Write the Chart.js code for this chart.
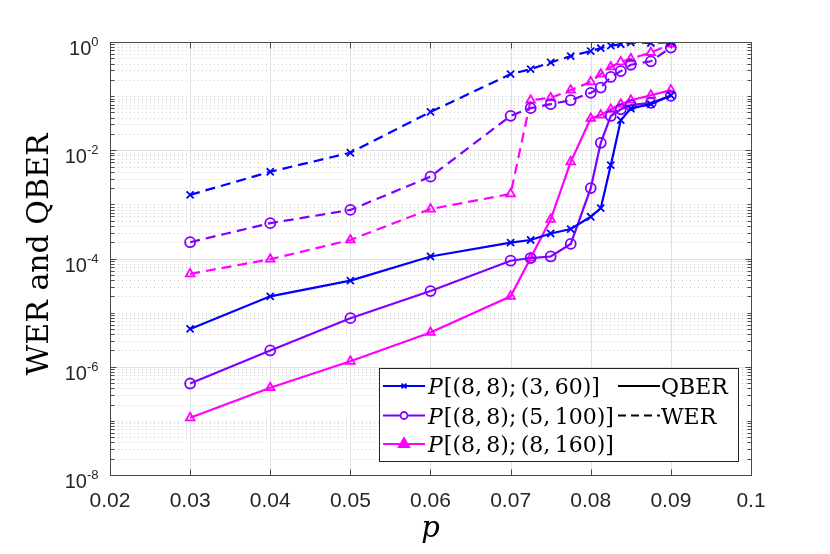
<!DOCTYPE html>
<html>
<head>
<meta charset="utf-8">
<title>WER and QBER</title>
<script src="https://cdn.jsdelivr.net/npm/chart.js@4.4.1/dist/chart.umd.min.js"></script>
<style>
  html, body { margin: 0; padding: 0; background: #fff; }
  #wrap { width: 830px; height: 554px; }
</style>
</head>
<body>
<div id="wrap"><canvas id="berChart" width="830" height="554"></canvas></div>
<script>
// ------------------------------------------------------------
// data
// ------------------------------------------------------------
const pValues = [0.03, 0.04, 0.05, 0.06, 0.07, 0.0725, 0.075, 0.0775, 0.08, 0.08125, 0.0825, 0.08375, 0.085, 0.0875, 0.09];

// P[(8,8);(3,60)]
const qber3 = [5.0e-6, 2.0e-5, 3.9e-5, 1.09e-4, 1.97e-4, 2.2e-4, 2.9e-4, 3.5e-4, 5.9e-4, 8.5e-4, 5.3e-3, 0.036, 0.059, 0.071, 0.103];
const wer3  = [1.5e-3, 4.0e-3, 9.0e-3, 5.1e-2, 0.255, 0.315, 0.42, 0.55, 0.68, 0.77, 0.855, 0.91, 0.98, 0.96, 0.99];

// P[(8,8);(5,100)]
const qber5 = [4.9e-7, 2.0e-6, 7.9e-6, 2.5e-5, 9.1e-5, 1.02e-4, 1.09e-4, 1.86e-4, 2.0e-3, 0.0137, 0.043, 0.057, 0.068, 0.075, 0.101];
const wer5  = [2.0e-4, 4.5e-4, 7.9e-4, 3.25e-3, 0.0433, 0.060, 0.071, 0.084, 0.115, 0.144, 0.226, 0.29, 0.38, 0.44, 0.79];

// P[(8,8);(8,160)]
const qber8 = [1.14e-7, 4.1e-7, 1.26e-6, 4.3e-6, 2.0e-5, 1.02e-4, 5.3e-4, 6.1e-3, 0.0387, 0.0446, 0.057, 0.071, 0.084, 0.104, 0.129];
const wer8  = [5.2e-5, 9.7e-5, 2.2e-4, 8.2e-4, 1.56e-3, 0.084, 0.093, 0.129, 0.183, 0.254, 0.346, 0.43, 0.49, 0.64, 0.91];

const codeNames = ["(3, 60)", "(5, 100)", "(8, 160)"];
const xTicks = [0.02, 0.03, 0.04, 0.05, 0.06, 0.07, 0.08, 0.09, 0.1];
const xTickLabels = ["0.02", "0.03", "0.04", "0.05", "0.06", "0.07", "0.08", "0.09", "0.1"];
const yExponents = [0, -2, -4, -6, -8];

const BLUE = "#0000ff";
const PURPLE = "#7f00ff";
const MAGENTA = "#ff00ff";

function toPoints(values) {
    return pValues.map((p, i) => ({ x: p, y: values[i] }));
}

function series(label, values, color, style, dashed) {
    return {
        label: label,
        data: toPoints(values),
        showLine: true,
        borderColor: color,
        borderWidth: 2.2,
        borderDash: dashed ? [10, 6] : [],
        pointStyle: style,
        pointRadius: 5,
        pointHoverRadius: 5,
        pointBorderWidth: 1.8,
        pointBorderColor: color,
        pointBackgroundColor: "rgba(0,0,0,0)",
        tension: 0
    };
}

// ------------------------------------------------------------
// axes, grid, labels and legend (MATLAB look)
// ------------------------------------------------------------
function hLine(ctx, x1, x2, y) {
    ctx.beginPath(); ctx.moveTo(x1, y); ctx.lineTo(x2, y); ctx.stroke();
}
function vLine(ctx, x, y1, y2) {
    ctx.beginPath(); ctx.moveTo(x, y1); ctx.lineTo(x, y2); ctx.stroke();
}

const matlabAxes = {
    id: "matlabAxes",
    beforeDraw(chart) {
        const ctx = chart.ctx;
        ctx.save();
        ctx.fillStyle = "#fff";
        ctx.fillRect(0, 0, chart.width, chart.height);
        ctx.restore();
    },
    beforeDatasetsDraw(chart) {
        const { ctx, chartArea: a, scales: { x, y } } = chart;
        ctx.save();
        ctx.lineWidth = 1;

        // minor grid (dotted)
        ctx.strokeStyle = "#cdcdcd";
        ctx.setLineDash([1, 3]);
        for (let e = -8; e < 0; e++) {
            for (let m = 1; m <= 9; m++) {
                if (m === 1 && e % 2 === 0) continue;
                const py = Math.round(y.getPixelForValue(m * Math.pow(10, e))) + 0.5;
                hLine(ctx, a.left, a.right, py);
            }
        }

        // major grid
        ctx.setLineDash([]);
        ctx.strokeStyle = "#e1e1e1";
        xTicks.forEach(v => {
            const px = Math.round(x.getPixelForValue(v)) + 0.5;
            vLine(ctx, px, a.top, a.bottom);
        });
        yExponents.forEach(e => {
            const py = Math.round(y.getPixelForValue(Math.pow(10, e))) + 0.5;
            hLine(ctx, a.left, a.right, py);
        });
        ctx.restore();
    },
    afterDatasetsDraw(chart) {
        const { ctx, chartArea: a, scales: { x, y } } = chart;
        ctx.save();

        // box + ticks
        ctx.strokeStyle = "#4a4a4a";
        ctx.lineWidth = 1;
        const L = Math.round(a.left) + 0.5, R = Math.round(a.right) + 0.5;
        const T = Math.round(a.top) + 0.5, B = Math.round(a.bottom) + 0.5;
        ctx.strokeRect(L, T, R - L, B - T);

        xTicks.forEach(v => {
            const px = Math.round(x.getPixelForValue(v)) + 0.5;
            vLine(ctx, px, B, B - 6);
            vLine(ctx, px, T, T + 6);
        });
        for (let e = -8; e <= 0; e++) {
            for (let m = 1; m <= 9; m++) {
                if (e === 0 && m > 1) break;
                const v = m * Math.pow(10, e);
                const py = Math.round(y.getPixelForValue(v)) + 0.5;
                const len = (m === 1 && e % 2 === 0) ? 6 : 4;
                hLine(ctx, L, L + len, py);
                hLine(ctx, R, R - len, py);
            }
        }

        // tick labels
        ctx.fillStyle = "#262626";
        ctx.font = "21px 'Liberation Sans', Arial, sans-serif";
        ctx.textAlign = "center";
        ctx.textBaseline = "alphabetic";
        xTicks.forEach((v, i) => {
            ctx.fillText(xTickLabels[i], x.getPixelForValue(v), B + 31);
        });

        const labelRight = L - 12;
        yExponents.forEach(e => {
            const py = y.getPixelForValue(Math.pow(10, e));
            const expText = String(e);
            ctx.font = "13px 'Liberation Sans', Arial, sans-serif";
            const expW = ctx.measureText(expText).width;
            ctx.textAlign = "left";
            ctx.fillText(expText, labelRight - expW, py + 4);
            ctx.font = "20px 'Liberation Sans', Arial, sans-serif";
            ctx.textAlign = "right";
            ctx.fillText("10", labelRight - expW, py + 13);
        });

        // axis titles
        ctx.fillStyle = "#000";
        ctx.textAlign = "center";
        ctx.font = "italic 29px 'DejaVu Serif', serif";
        ctx.fillText("p", (a.left + a.right) / 2, 537);

        ctx.save();
        ctx.translate(48, (a.top + a.bottom) / 2 - 4);
        ctx.rotate(-Math.PI / 2);
        ctx.font = "30px 'DejaVu Serif', serif";
        ctx.fillText("WER and QBER", 0, 0);
        ctx.restore();

        drawLegend(chart);
        ctx.restore();
    }
};

function drawLegend(chart) {
    const ctx = chart.ctx;
    const a = chart.chartArea;
    const bw = 359, bh = 93;
    const bx = Math.round(a.right) - 13 - bw;
    const by = Math.round(a.bottom) - 14 - bh;

    ctx.save();
    ctx.fillStyle = "#fff";
    ctx.fillRect(bx, by, bw, bh);
    ctx.strokeStyle = "#262626";
    ctx.lineWidth = 1;
    ctx.setLineDash([]);
    ctx.strokeRect(bx + 0.5, by + 0.5, bw, bh);

    const rowsY = [by + 18, by + 47.5, by + 76];
    const colors = [BLUE, PURPLE, MAGENTA];
    const markers = [
        { pointStyle: "crossRot", radius: 3.5, fill: BLUE },
        { pointStyle: "circle", radius: 3.5, fill: "#fff" },
        { pointStyle: "triangle", radius: 6, fill: MAGENTA }
    ];

    codeNames.forEach((name, i) => {
        const yy = rowsY[i];
        ctx.strokeStyle = colors[i];
        ctx.lineWidth = 2;
        hLine(ctx, bx + 4, bx + 46, yy);
        ctx.fillStyle = markers[i].fill;
        ctx.lineWidth = 1.8;
        Chart.helpers.drawPoint(ctx, {
            pointStyle: markers[i].pointStyle,
            radius: markers[i].radius,
            borderWidth: 1.8,
            rotation: 0
        }, bx + 25, yy);

        ctx.fillStyle = "#000";
        ctx.textAlign = "left";
        ctx.textBaseline = "alphabetic";
        let tx = bx + 49;
        ctx.font = "italic 22px 'DejaVu Serif', serif";
        ctx.fillText("P", tx, yy + 8);
        tx += ctx.measureText("P").width + 1;
        ctx.font = "22px 'DejaVu Serif', serif";
        ctx.fillText("[(8,\u20098);\u2009" + name.replace(", ", ",\u2009") + "]", tx, yy + 8);
    });

    // line style key
    ctx.strokeStyle = "#000";
    ctx.lineWidth = 2.2;
    hLine(ctx, bx + 239, bx + 281, rowsY[0]);
    ctx.setLineDash([8, 5]);
    hLine(ctx, bx + 239, bx + 281, rowsY[1]);
    ctx.setLineDash([]);
    ctx.fillStyle = "#000";
    ctx.font = "22px 'DejaVu Serif', serif";
    ctx.fillText("QBER", bx + 282, rowsY[0] + 8);
    ctx.fillText("WER", bx + 282, rowsY[1] + 8);
    ctx.restore();
}

// ------------------------------------------------------------
// chart
// ------------------------------------------------------------
document.addEventListener("DOMContentLoaded", function () {
    const canvas = document.getElementById("berChart");

    new Chart(canvas, {
        type: "scatter",
        data: {
            datasets: [
                series("QBER (3,60)", qber3, BLUE, "crossRot", false),
                series("WER (3,60)", wer3, BLUE, "crossRot", true),
                series("QBER (5,100)", qber5, PURPLE, "circle", false),
                series("WER (5,100)", wer5, PURPLE, "circle", true),
                series("QBER (8,160)", qber8, MAGENTA, "triangle", false),
                series("WER (8,160)", wer8, MAGENTA, "triangle", true)
            ]
        },
        options: {
            responsive: false,
            animation: false,
            devicePixelRatio: 1,
            layout: { padding: { left: 102, right: 79, top: 42, bottom: 71 } },
            plugins: {
                legend: { display: false },
                title: { display: false },
                tooltip: { enabled: false }
            },
            scales: {
                x: {
                    type: "linear",
                    min: 0.02,
                    max: 0.1,
                    grid: { display: false },
                    border: { display: false },
                    ticks: { display: false }
                },
                y: {
                    type: "logarithmic",
                    min: 1e-8,
                    max: 1,
                    grid: { display: false },
                    border: { display: false },
                    ticks: { display: false }
                }
            }
        },
        plugins: [matlabAxes]
    });
});
</script>
</body>
</html>
